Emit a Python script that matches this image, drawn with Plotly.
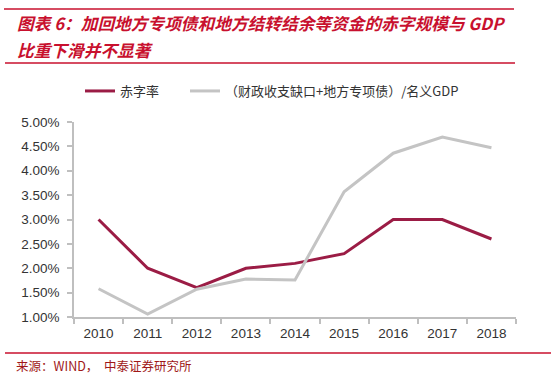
import plotly.graph_objects as go

years = ["2010", "2011", "2012", "2013", "2014", "2015", "2016", "2017", "2018"]
deficit_rate = [3.00, 2.00, 1.60, 2.00, 2.10, 2.30, 3.00, 3.00, 2.60]
broad_deficit = [1.58, 1.06, 1.57, 1.78, 1.76, 3.57, 4.36, 4.69, 4.47]
y_ticks = [1.0, 1.5, 2.0, 2.5, 3.0, 3.5, 4.0, 4.5, 5.0]

name_red = "赤字率"
name_gray = "（财政收支缺口+地方专项债）/名义GDP"
title1 = "图表 6：加回地方专项债和地方结转结余等资金的赤字规模与 GDP"
title2 = "比重下滑并不显著"
source = "来源：WIND，  中泰证券研究所"

W, H = 560, 381
L, R, T, B = 74, 516, 122, 317

def px(x):
    return (x - L) / (R - L)

def py(y):
    return (B - y) / (B - T)

RED = "#9b1c45"
GRAY = "#c4c4c4"
TRED = "#c8102e"

fig = go.Figure()
fig.add_trace(go.Scatter(x=years, y=deficit_rate, mode="lines", name=name_red,
                         line=dict(color=RED, width=3), legend="legend"))
fig.add_trace(go.Scatter(x=years, y=broad_deficit, mode="lines", name=name_gray,
                         line=dict(color=GRAY, width=3), legend="legend2"))

font_main = "Liberation Sans, Arial, Noto Sans CJK SC, sans-serif"
font_cjk = "Noto Sans CJK SC, sans-serif"
legend_font = dict(family=font_cjk, size=13, color="#333333")

fig.update_layout(
    width=W, height=H,
    margin=dict(l=L, r=W - R, t=T, b=H - B, pad=0),
    paper_bgcolor="white", plot_bgcolor="white",
    font=dict(family=font_main, size=13.5, color="#333333"),
    showlegend=True,
    legend=dict(orientation="h", x=px(80), y=py(91), xanchor="left", yanchor="middle",
                font=legend_font, bgcolor="rgba(0,0,0,0)", itemwidth=30),
    legend2=dict(orientation="h", x=px(185), y=py(91), xanchor="left", yanchor="middle",
                 font=legend_font, bgcolor="rgba(0,0,0,0)", itemwidth=30),
    xaxis=dict(type="category", range=[-0.5, 8.5], showgrid=False, zeroline=False,
               showline=True, linecolor="#bfbfbf", linewidth=1.5,
               ticks="outside", ticklen=5, tickcolor="#bfbfbf", tickwidth=1.5,
               tickson="boundaries", ticklabelstandoff=3,
               tickfont=dict(size=13.5, color="#333333")),
    yaxis=dict(range=[1.0, 5.0], tickvals=y_ticks, ticktext=[f"{v:.2f}%" for v in y_ticks],
               showgrid=False, zeroline=False,
               showline=True, linecolor="#bfbfbf", linewidth=1.5,
               ticks="outside", ticklen=5, tickcolor="#bfbfbf", tickwidth=1.5,
               ticklabelstandoff=5,
               tickfont=dict(size=13.5, color="#333333")),
)

shapes = [
    dict(type="line", xref="paper", yref="paper", x0=px(4), x1=px(514), y0=py(9), y1=py(9),
         line=dict(color=TRED, width=1.5)),
    dict(type="line", xref="paper", yref="paper", x0=px(5), x1=px(515), y0=py(63), y1=py(63),
         line=dict(color=TRED, width=1.5)),
    dict(type="line", xref="paper", yref="paper", x0=px(5), x1=px(551), y0=py(353), y1=py(353),
         line=dict(color=TRED, width=1.5)),
]
fig.update_layout(shapes=shapes)

ann = [
    dict(text=f"<b><i>{title1}</i></b>", x=px(15), y=py(23), xref="paper", yref="paper",
         xanchor="left", yanchor="middle", showarrow=False,
         font=dict(family=font_cjk, size=16.7, color=TRED)),
    dict(text=f"<b><i>{title2}</i></b>", x=px(15), y=py(50), xref="paper", yref="paper",
         xanchor="left", yanchor="middle", showarrow=False,
         font=dict(family=font_cjk, size=16.7, color=TRED)),
    dict(text=source, x=px(14), y=py(365), xref="paper", yref="paper",
         xanchor="left", yanchor="middle", showarrow=False,
         font=dict(family=font_cjk, size=12.5, color="#a01818")),
]
fig.update_layout(annotations=ann)

fig.write_html("out.html", config={"displayModeBar": False},
               post_script="document.body.style.margin='0';")
